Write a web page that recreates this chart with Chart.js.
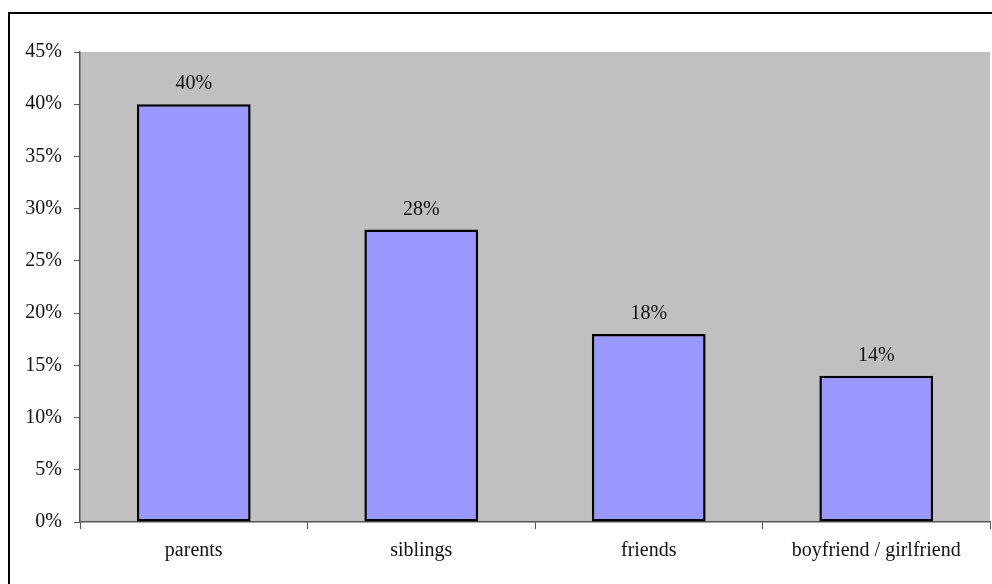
<!DOCTYPE html>
<html>
<head>
<meta charset="utf-8">
<script src="https://cdn.jsdelivr.net/npm/chart.js@4/dist/chart.umd.min.js"></script>
<style>
  html, body { margin: 0; padding: 0; background: #fff; }
  #wrap { width: 992px; height: 584px; }
</style>
</head>
<body>
<div id="wrap"><canvas id="chart" width="992" height="584"></canvas></div>
<script>
const categories = ["parents", "siblings", "friends", "boyfriend / girlfriend"];
const shares = [40, 28, 18, 14];
const yTicks = [0, 5, 10, 15, 20, 25, 30, 35, 40, 45];

const FONT = "'Liberation Serif', 'Times New Roman', serif";

// gray plot area + outer frame
const backdrop = {
  id: 'backdrop',
  beforeDraw(chart) {
    const { ctx, chartArea: a } = chart;
    ctx.save();
    ctx.fillStyle = '#fff';
    ctx.fillRect(0, 0, chart.width, chart.height);
    ctx.strokeStyle = '#000';
    ctx.lineWidth = 2;
    ctx.strokeRect(9, 13, chart.width + 20, chart.height + 20);
    ctx.fillStyle = '#c0c0c0';
    ctx.fillRect(a.left, a.top, a.right - a.left, a.bottom - a.top);
    ctx.restore();
  }
};

// value labels above bars
const valueLabels = {
  id: 'valueLabels',
  afterDatasetsDraw(chart) {
    const { ctx } = chart;
    const meta = chart.getDatasetMeta(0);
    ctx.save();
    ctx.fillStyle = '#111';
    ctx.font = '20px ' + FONT;
    ctx.textAlign = 'center';
    ctx.textBaseline = 'alphabetic';
    meta.data.forEach((bar, i) => {
      ctx.fillText(shares[i] + '%', bar.x, bar.y - 15);
    });
    ctx.restore();
  }
};

const ctx = document.getElementById('chart').getContext('2d');
new Chart(ctx, {
  type: 'bar',
  data: {
    labels: categories,
    datasets: [{
      data: shares,
      backgroundColor: '#9999ff',
      borderColor: '#000',
      borderWidth: 2.5,
      borderSkipped: false,
      barPercentage: 0.5,
      categoryPercentage: 1
    }]
  },
  options: {
    responsive: false,
    animation: false,
    layout: { padding: { left: 0, top: 52, right: 2, bottom: 0 } },
    plugins: { legend: { display: false }, tooltip: { enabled: false } },
    scales: {
      y: {
        min: 0,
        max: 45,
        afterFit(scale) { scale.width = 80; },
        afterBuildTicks(scale) { scale.ticks = yTicks.map(v => ({ value: v })); },
        ticks: {
          color: '#111',
          font: { family: FONT, size: 20 },
          padding: 12,
          callback: v => v + '%'
        },
        grid: { drawOnChartArea: false, tickLength: 6, color: '#555' },
        border: { color: '#555', width: 1.5 }
      },
      x: {
        afterFit(scale) { scale.height = 62; },
        ticks: {
          color: '#111',
          font: { family: FONT, size: 20 },
          padding: 10
        },
        grid: { offset: true, drawOnChartArea: false, tickLength: 7, color: '#555' },
        border: { color: '#555', width: 1.5 }
      }
    }
  },
  plugins: [backdrop, valueLabels]
});
</script>
</body>
</html>
